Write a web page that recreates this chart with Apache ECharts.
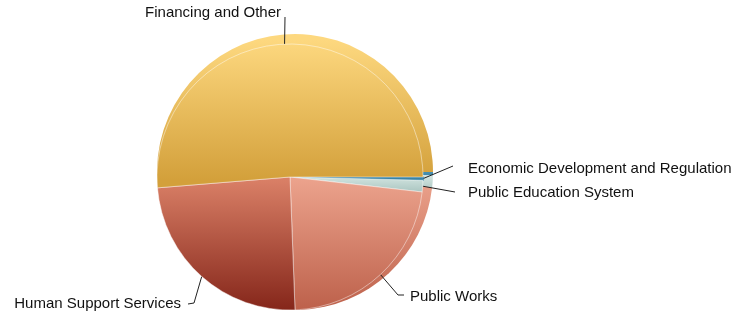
<!DOCTYPE html>
<html>
<head>
<meta charset="utf-8">
<script src="https://cdn.jsdelivr.net/npm/echarts@6/dist/echarts.min.js"></script>
<style>
  html, body { margin: 0; padding: 0; background: #fff; }
  #chart { width: 735px; height: 317px; }
</style>
</head>
<body>
<div id="chart"></div>
<script>
// slices, clockwise from 3 o'clock
const categories = ['Economic Development and Regulation', 'Public Education System', 'Public Works', 'Human Support Services', 'Financing and Other']
const values = [0.4, 1.4, 22.6, 24.3, 51.3]

// gradient colours for each slice (top -> bottom)
const topColors = ['#4b93b3', '#d6e7e3', '#eba28c', '#d97f66', '#fdd87f']
const bottomColors = ['#2f7696', '#a3c0bb', '#bd614b', '#85261a', '#d3a03b']
// vertical span of each gradient, px
const gradTop = [170, 175, 180, 180, 40]
const gradBottom = [185, 195, 310, 310, 180]

// where each label goes: [x, y, align]
const labelPos = [
  [468, 169, 'left'],
  [468, 193, 'left'],
  [410, 297, 'left'],
  [181, 304, 'right'],
  [281, 13, 'right']
]
// leader line elbows
const elbows = [
  [[453, 166]],
  [[455, 192]],
  [[398, 295], [404, 295]],
  [[194, 303], [188, 304]],
  [[285, 17]]
]

function grad(i) {
  return {
    type: 'linear', x: 0, y: gradTop[i], x2: 0, y2: gradBottom[i], global: true,
    colorStops: [{ offset: 0, color: topColors[i] }, { offset: 1, color: bottomColors[i] }]
  }
}

const faceData = categories.map((name, i) => ({
  name,
  value: values[i],
  itemStyle: i === 0
    ? { color: grad(i), borderColor: '#3f88aa', borderWidth: 1.5 }
    : { color: grad(i) }
}))
const rimData = categories.map((name, i) => ({ name, value: values[i], itemStyle: { color: grad(i) } }))

const chart = echarts.init(document.getElementById('chart'))
chart.setOption({
  animation: false,
  series: [
    {
      // extruded side of the pie
      type: 'pie',
      silent: true,
      z: 1,
      center: [295, 172],
      radius: 138,
      startAngle: 0,
      clockwise: true,
      label: { show: false },
      labelLine: { show: false },
      itemStyle: { borderWidth: 0 },
      data: rimData
    },
    {
      type: 'pie',
      z: 3,
      center: [290, 177],
      radius: 133,
      startAngle: 0,
      clockwise: true,
      avoidLabelOverlap: false,
      itemStyle: { borderColor: 'rgba(255,255,255,0.45)', borderWidth: 1 },
      label: {
        show: true,
        position: 'outside',
        color: '#111',
        fontFamily: 'Liberation Sans, Arial, sans-serif',
        fontSize: 15
      },
      labelLine: {
        show: true,
        length: 14,
        length2: 8,
        lineStyle: { color: '#222', width: 1 }
      },
      labelLayout: function (params) {
        const i = params.dataIndex
        const p = labelPos[i]
        const start = params.labelLinePoints ? params.labelLinePoints[0] : null
        const out = { x: p[0], y: p[1], align: p[2], verticalAlign: 'middle' }
        if (start) out.labelLinePoints = [start].concat(elbows[i])
        return out
      },
      data: faceData
    }
  ]
})
</script>
</body>
</html>
